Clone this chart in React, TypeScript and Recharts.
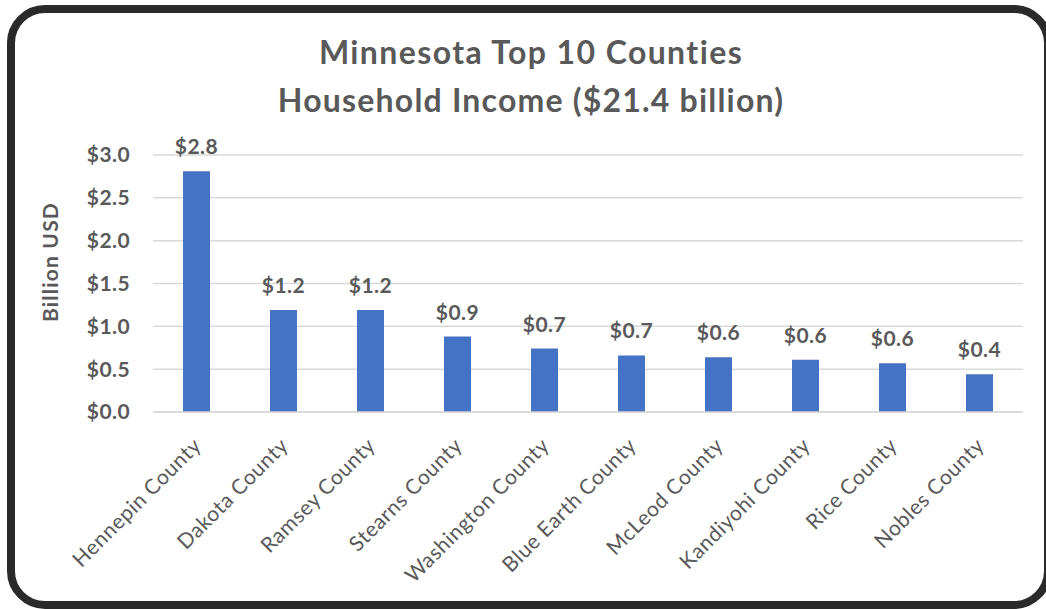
import React from "react";
import { BarChart, Bar, XAxis, YAxis, CartesianGrid, LabelList } from "recharts";

const counties = [
  "Hennepin County",
  "Dakota County",
  "Ramsey County",
  "Stearns County",
  "Washington County",
  "Blue Earth County",
  "McLeod County",
  "Kandiyohi County",
  "Rice County",
  "Nobles County",
];
const incomeBillions = [2.81, 1.19, 1.19, 0.88, 0.74, 0.66, 0.64, 0.61, 0.57, 0.44];
const yTicks = [0, 0.5, 1.0, 1.5, 2.0, 2.5, 3.0];
const titleLines = ["Minnesota Top 10 Counties", "Household Income ($21.4 billion)"];
const yAxisTitle = "Billion USD";

const data = counties.map((name, i) => ({ name, value: incomeBillions[i] }));

const FONT = "Lato, 'Open Sans', sans-serif";
const TEXT = "#595959";

const XTick = (props: any) => {
  const { x, y, payload } = props;
  const ax = x + 6;
  const ay = y + 27;
  return (
    <text
      x={ax}
      y={ay}
      transform={`rotate(-45, ${ax}, ${ay})`}
      textAnchor="end"
      fill={TEXT}
      fontSize={21}
      letterSpacing={0.6}
      fontFamily={FONT}
    >
      {payload.value}
    </text>
  );
};

const ValueLabel = (props: any) => {
  const { x, y, width, value } = props;
  return (
    <text
      x={x + width / 2}
      y={y - 17}
      textAnchor="middle"
      fill={TEXT}
      fontSize={21}
      fontWeight="bold"
      letterSpacing={0.5}
      fontFamily={FONT}
    >
      {`$${Number(value).toFixed(1)}`}
    </text>
  );
};

export default function App() {
  return (
    <div
      style={{
        position: "fixed",
        left: 0,
        top: 0,
        width: 1046,
        height: 609,
        overflow: "hidden",
        background: "#fff",
      }}
    >
      <div
        style={{
          position: "absolute",
          left: 7,
          top: 5,
          width: 1045,
          height: 604,
          border: "8px solid #2a2a2a",
          borderRadius: 38,
          boxSizing: "border-box",
        }}
      />
      <div style={{ position: "absolute", left: 0, top: 0 }}>
        <BarChart
          width={1046}
          height={609}
          data={data}
          margin={{ top: 155, right: 23, bottom: 17, left: 33 }}
          barCategoryGap="0%"
        >
          <CartesianGrid vertical={false} stroke="#d9d9d9" strokeWidth={1.5} />
          <XAxis
            dataKey="name"
            interval={0}
            height={180}
            tickLine={false}
            axisLine={{ stroke: "#d9d9d9", strokeWidth: 1.5 }}
            tick={<XTick />}
          />
          <YAxis
            width={120}
            domain={[0, 3]}
            ticks={yTicks}
            tickFormatter={(v: number) => `$${v.toFixed(1)}`}
            axisLine={false}
            tickLine={false}
            tickSize={0}
            tickMargin={23}
            tick={{ fill: TEXT, fontSize: 21, fontWeight: "bold", fontFamily: FONT, letterSpacing: 0.4 }}
          />
          <Bar dataKey="value" fill="#4472C4" barSize={27} isAnimationActive={false}>
            <LabelList dataKey="value" content={<ValueLabel />} />
          </Bar>
        </BarChart>
      </div>
      <svg
        width={1046}
        height={609}
        style={{ position: "absolute", left: 0, top: 0, pointerEvents: "none" }}
      >
        <text
          x={531}
          y={64}
          textAnchor="middle"
          fill={TEXT}
          fontSize={32}
          fontWeight="bold"
          letterSpacing={1.4}
          fontFamily={FONT}
        >
          {titleLines[0]}
        </text>
        <text
          x={531}
          y={112}
          textAnchor="middle"
          fill={TEXT}
          fontSize={32}
          fontWeight="bold"
          letterSpacing={1.2}
          fontFamily={FONT}
        >
          {titleLines[1]}
        </text>
        <text
          x={58}
          y={262}
          transform="rotate(-90, 58, 262)"
          textAnchor="middle"
          fill={TEXT}
          fontSize={21}
          fontWeight="bold"
          letterSpacing={1.2}
          fontFamily={FONT}
        >
          {yAxisTitle}
        </text>
      </svg>
    </div>
  );
}
